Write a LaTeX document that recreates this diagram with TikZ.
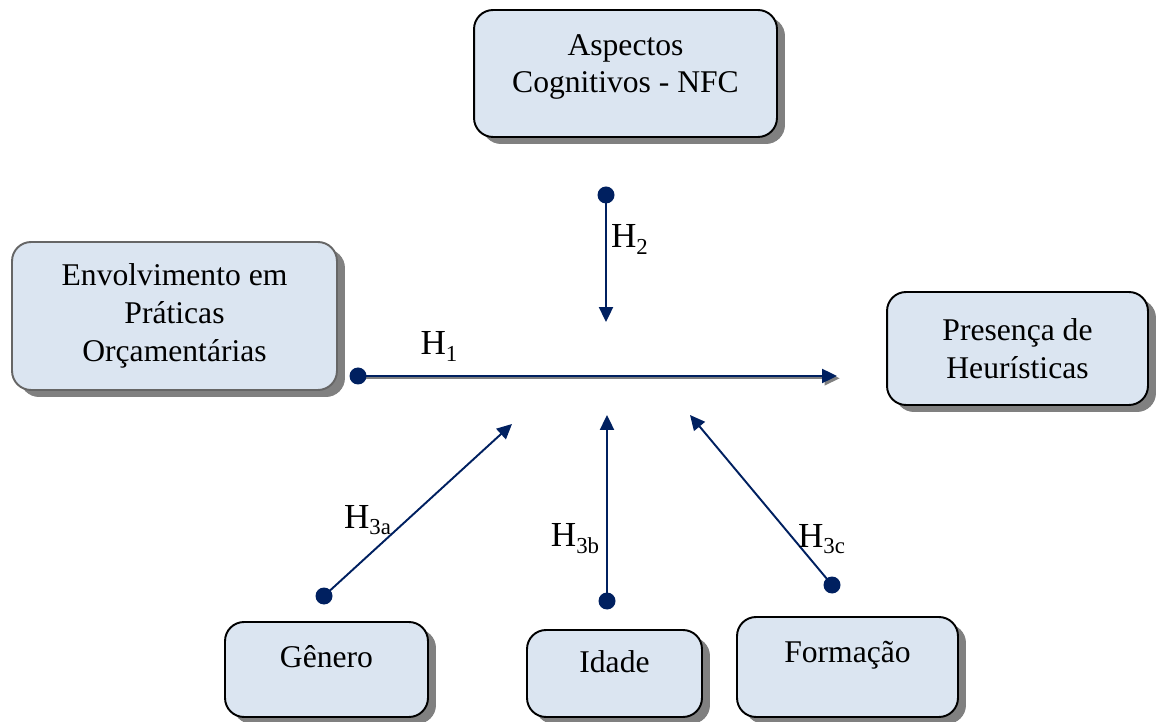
\documentclass[tikz,border=0pt]{standalone}
\usepackage{fontspec}
\setmainfont{Liberation Serif}
\usetikzlibrary{arrows.meta,shadows}
\definecolor{navy}{RGB}{0,32,96}
\definecolor{boxfill}{RGB}{219,229,241}
\newcommand{\hyp}[1]{H\raisebox{-3.8pt}{\fontsize{13}{13}\selectfont #1}}

\begin{document}
\begin{tikzpicture}[x=0.02cm,y=-0.02cm,
  caixa/.style={draw=black,line width=1.1pt,fill=boxfill,rounded corners=0.38cm,
    align=center,inner sep=0pt,font=\fontsize{18}{21.5}\selectfont,
    drop shadow={shadow xshift=0.16cm,shadow yshift=-0.14cm,fill=black!50,opacity=1}},
  hip/.style={inner sep=0pt,font=\fontsize{20}{24}\selectfont},
  seta/.style={navy,line width=1.1pt,-{Triangle[length=8.5pt,width=8pt]}}]
  \useasboundingbox (0,0) rectangle (1156,722);

  \node[caixa,minimum width=6.06cm,minimum height=2.54cm,text height=33.5pt,text depth=11.5pt] (asp) at (625.5,73.5) {Aspectos\\Cognitivos - NFC};
  \node[caixa,draw=black!60,minimum width=6.5cm,minimum height=2.96cm] (env) at (174.5,316) {Envolvimento em\\Práticas\\Orçamentárias};
  \node[caixa,minimum width=5.22cm,minimum height=2.26cm] (pre) at (1017.5,348.5) {Presença de\\Heurísticas};
  \node[caixa,minimum width=4.06cm,minimum height=1.9cm,text height=12pt,text depth=14.8pt] (gen) at (326.5,669.5) {Gênero};
  \node[caixa,minimum width=3.5cm,minimum height=1.74cm,text height=12pt,text depth=12.6pt] (ida) at (614.5,673.5) {Idade};
  \node[caixa,minimum width=4.42cm,minimum height=2cm,text height=12pt,text depth=17.6pt] (for) at (847.5,667) {Formação};

  \coordinate (h1a) at (358,376);  \coordinate (h1b) at (837,376);
  \coordinate (h2a) at (606,195);  \coordinate (h2b) at (606,322);
  \coordinate (h3aa) at (324,596); \coordinate (h3ab) at (512,424);
  \coordinate (h3ba) at (607,601); \coordinate (h3bb) at (607,415);
  \coordinate (h3ca) at (832,585); \coordinate (h3cb) at (690,415);

  \draw[seta,black!50,transform canvas={xshift=1.5pt,yshift=-1.3pt}] (h1a) -- (h1b);
  \draw[seta] (h1a) -- (h1b);
  \draw[seta] (h2a) -- (h2b);
  \draw[seta] (h3aa) -- (h3ab);
  \draw[seta] (h3ba) -- (h3bb);
  \draw[seta] (h3ca) -- (h3cb);
  \fill[navy] (h1a) circle (8.5);
  \fill[navy] (h2a) circle (8.5);
  \fill[navy] (h3aa) circle (8.5);
  \fill[navy] (h3ba) circle (8.5);
  \fill[navy] (h3ca) circle (8.5);

  \node[hip] (lh1) at (439,346.5) {\hyp{1}};
  \node[hip] (lh2) at (629.5,239.5) {\hyp{2}};
  \node[hip] (lh3a) at (367.5,520) {\hyp{3a}};
  \node[hip] (lh3b) at (575,538.5) {\hyp{3b}};
  \node[hip] (lh3c) at (821.5,539) {\hyp{3c}};
\end{tikzpicture}
\end{document}
